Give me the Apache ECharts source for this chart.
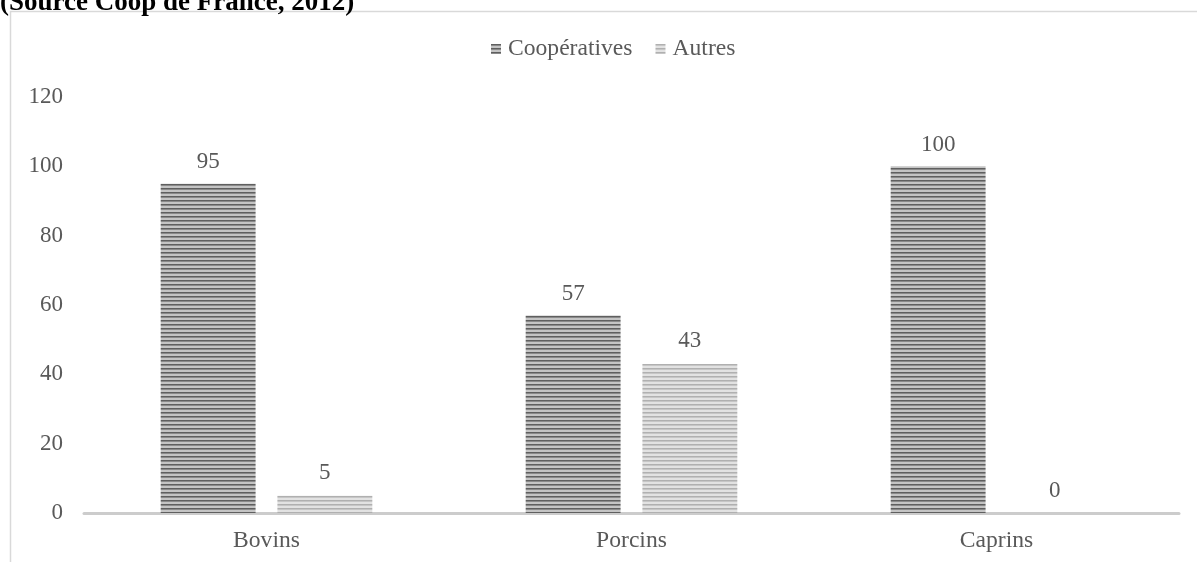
<!DOCTYPE html>
<html>
<head>
<meta charset="utf-8">
<script src="https://cdn.jsdelivr.net/npm/echarts@6/dist/echarts.min.js"></script>
<style>
  html, body { margin: 0; padding: 0; background: #fff; }
  #chart { width: 1197px; height: 562px; }
</style>
</head>
<body>
<div id="chart"></div>
<script>
// Categories and values (share in %)
const categories = ['Bovins', 'Porcins', 'Caprins'];
const cooperatives = [95, 57, 100];
const autres = [5, 43, 0];
const yTicks = [0, 20, 40, 60, 80, 100, 120];

// Horizontal striped fill used for the bars
function stripes(dark, mid, light) {
  const c = document.createElement('canvas');
  c.width = 8; c.height = 4;
  const g = c.getContext('2d');
  g.fillStyle = light; g.fillRect(0, 0, 8, 4);
  g.fillStyle = dark; g.fillRect(0, 0, 8, 1);
  g.fillStyle = mid; g.fillRect(0, 1, 8, 1);
  return { image: c, repeat: 'repeat' };
}

const coopFill = stripes('#5f5f5f', '#8a8a8a', '#c4c4c4');
const autresFill = stripes('#b0b0b0', '#c6c6c6', '#e2e2e2');

const font = '"Liberation Serif", "Times New Roman", serif';
const textColor = '#595959';
const size = 23;
const wordSize = 23.6;

const chart = echarts.init(document.getElementById('chart'), null, { renderer: 'canvas' });
chart.setOption({
  animation: false,
  textStyle: { fontFamily: font },
  graphic: [
    {
      type: 'rect',
      shape: { x: 10.5, y: 11.5, width: 1200, height: 600 },
      style: { fill: 'none', stroke: '#d9d9d9', lineWidth: 1.5 },
      z: -1
    },
    {
      type: 'text',
      x: 0, y: -10,
      style: {
        text: '(Source Coop de France, 2012)',
        font: 'bold 27px ' + font,
        fill: '#000'
      }
    }
  ],
  legend: {
    top: 32,
    left: 486,
    itemWidth: 10,
    itemHeight: 10,
    itemGap: 23,
    icon: 'rect',
    textStyle: { fontFamily: font, fontSize: wordSize, color: textColor, padding: [0, 0, 0, 2] },
    data: ['Coopératives', 'Autres']
  },
  grid: { left: 84, right: 18, top: 97, bottom: 49 },
  xAxis: {
    type: 'category',
    data: categories,
    axisLine: { lineStyle: { color: '#cccccc', width: 3 } },
    axisTick: { show: false },
    axisLabel: { fontFamily: font, fontSize: wordSize, color: textColor, margin: 16 }
  },
  yAxis: {
    type: 'value',
    min: yTicks[0],
    max: yTicks[yTicks.length - 1],
    interval: 20,
    splitLine: { show: false },
    axisLine: { show: false },
    axisTick: { show: false },
    axisLabel: { fontFamily: font, fontSize: size, color: textColor, margin: 21 }
  },
  series: [
    {
      name: 'Coopératives',
      type: 'bar',
      data: cooperatives,
      barWidth: '26%',
      barGap: '23%',
      itemStyle: { color: coopFill },
      label: { show: true, position: 'top', distance: 10, fontFamily: font, fontSize: size, color: textColor }
    },
    {
      name: 'Autres',
      type: 'bar',
      data: autres,
      barWidth: '26%',
      itemStyle: { color: autresFill },
      label: { show: true, position: 'top', distance: 11, fontFamily: font, fontSize: size, color: textColor }
    }
  ]
});
</script>
</body>
</html>
